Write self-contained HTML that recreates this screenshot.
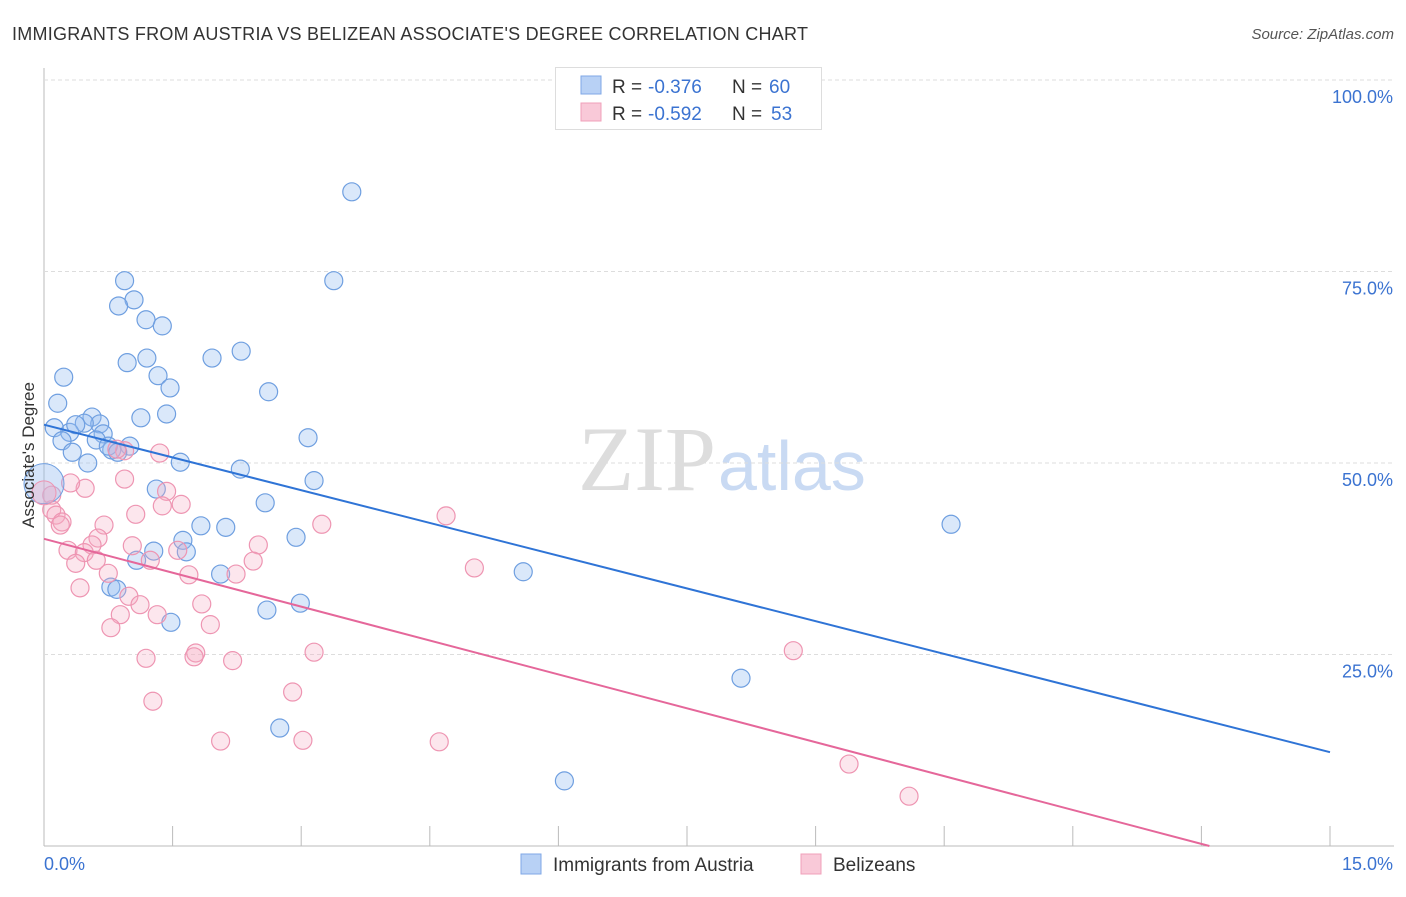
<!DOCTYPE html>
<html><head><meta charset="utf-8"><style>
body{margin:0;background:#fff;font-family:"Liberation Sans",sans-serif}
</style></head><body>
<svg id="c" width="1406" height="892" xmlns="http://www.w3.org/2000/svg">
<text x="12" y="40" font-size="18" fill="#333" textLength="796">IMMIGRANTS FROM AUSTRIA VS BELIZEAN ASSOCIATE'S DEGREE CORRELATION CHART</text>
<text x="1394" y="39" font-size="15" fill="#555" font-style="italic" text-anchor="end">Source: ZipAtlas.com</text>
<text x="716" y="490" font-size="92" fill="#ddd" text-anchor="end" font-family="Liberation Serif">ZIP</text>
<text x="718" y="490" font-size="70" fill="#c9daf3">atlas</text>
<g id="grid"></g><g id="pts"></g><g id="lines"></g>
<text transform="translate(34,455) rotate(-90)" font-size="17" fill="#333" text-anchor="middle">Associate's Degree</text>
<g>
<rect x="555.5" y="67.5" width="266" height="62" fill="#fff" stroke="#ddd"/>
<rect x="581" y="76" width="20" height="18" fill="#b8d1f5" stroke="#7fa7e6"/>
<rect x="581" y="103" width="20" height="18" fill="#f9c9d8" stroke="#f0a0ba"/>
<text x="612" y="93" font-size="19" fill="#333">R =</text>
<text x="648" y="93" font-size="19" fill="#3b73d1">-0.376</text>
<text x="732" y="93" font-size="19" fill="#333">N =</text>
<text x="769" y="93" font-size="19" fill="#3b73d1">60</text>
<text x="612" y="120" font-size="19" fill="#333">R =</text>
<text x="648" y="120" font-size="19" fill="#3b73d1">-0.592</text>
<text x="732" y="120" font-size="19" fill="#333">N =</text>
<text x="771" y="120" font-size="19" fill="#3b73d1">53</text>
</g>
<g>
<rect x="521" y="854" width="20" height="20" fill="#b8d1f5" stroke="#7fa7e6"/>
<text x="553" y="871" font-size="19" fill="#333">Immigrants from Austria</text>
<rect x="801" y="854" width="20" height="20" fill="#f9c9d8" stroke="#f0a0ba"/>
<text x="833" y="871" font-size="19" fill="#333">Belizeans</text>
</g>
</svg>
<script>
const xTicks=[0,1.5,3,4.5,6,7.5,9,10.5,12,13.5,15];
const yTicks=[25,50,75,100];
const yTickLabels=["25.0%","50.0%","75.0%","100.0%"];
const xEndLabels=["0.0%","15.0%"];
const blueX=[3.59,3.38,0.94,1.05,0.87,1.19,1.38,2.30,1.96,1.20,0.97,1.33,0.23,1.47,2.62,0.16,1.43,1.13,0.56,0.65,0.47,0.12,0.30,0.21,0.69,0.61,3.08,1.00,0.79,0.75,0.33,0.51,1.59,2.29,3.15,1.31,2.58,10.58,1.83,2.12,2.94,1.62,1.28,1.66,1.08,5.59,2.06,0.78,0.85,2.99,2.60,1.48,8.13,2.75,6.07,0.37,0.86];
const blueY=[85.4,73.8,73.8,71.3,70.5,68.7,67.9,64.6,63.7,63.7,63.1,61.4,61.2,59.8,59.3,57.8,56.4,55.9,56.0,55.1,55.2,54.6,54.0,52.9,53.8,53.0,53.3,52.2,51.7,52.2,51.4,50.0,50.1,49.2,47.7,46.6,44.8,42.0,41.8,41.6,40.3,39.9,38.5,38.4,37.3,35.8,35.5,33.8,33.5,31.7,30.8,29.2,21.9,15.4,8.5,55.0,51.4];
const pinkX=[1.35,0.94,0.85,0.09,0.48,0.94,0.31,1.43,1.60,1.38,4.69,0.09,0.14,0.21,0.19,0.70,3.24,1.07,0.63,0.28,0.56,1.03,2.50,1.56,1.24,0.47,0.61,2.44,0.37,1.69,2.24,0.75,5.02,0.42,0.99,1.12,1.84,1.32,0.89,1.94,0.78,8.74,3.15,1.77,1.75,1.19,2.20,2.90,1.27,2.06,3.02,4.61,9.39,10.09];
const pinkY=[51.3,51.6,51.8,45.8,46.7,47.9,47.4,46.3,44.6,44.4,43.1,43.9,43.2,42.3,41.9,41.9,42.0,43.3,40.2,38.6,39.3,39.2,39.3,38.6,37.3,38.3,37.3,37.2,36.9,35.4,35.5,35.6,36.3,33.7,32.6,31.5,31.6,30.2,30.2,28.9,28.5,25.5,25.3,25.2,24.7,24.5,24.2,20.1,18.9,13.7,13.8,13.6,10.7,6.5];
const bigX=[0,0];const bigY=[47.3,46.1];
const trendIntercept=[55.0,40.1];
const trendSlope=[-2.85,-2.95];
const X=v=>44+v/15*1286, Y=v=>846-v/100*766;
const NS="http://www.w3.org/2000/svg";
function mk(t,a,p){const e=document.createElementNS(NS,t);for(const k in a)e.setAttribute(k,a[k]);p.appendChild(e);return e;}
const g=document.getElementById('grid');
const ax=mk('line',{x1:44,y1:68,x2:44,y2:846,stroke:'#bbb'},g);


const bx=mk('line',{x1:44,y1:846,x2:1394,y2:846,stroke:'#bbb'},g);


yTicks.forEach((v,i)=>{
 const l=mk('line',{x1:44,y1:Y(v),x2:1394,y2:Y(v),stroke:'#ddd','stroke-dasharray':'4,3'},g);
 
 
 const t=mk('text',{x:1393,y:Y(v)+23,'font-size':18,fill:'#3b73d1','text-anchor':'end'},g);
 t.textContent=yTickLabels[i];
 
 
});
xTicks.forEach((v,i)=>{
 if(i==0)return;
 const l=mk('line',{x1:X(v),y1:826,x2:X(v),y2:846,stroke:'#bbb'},g);
 
 
});
const t0=mk('text',{x:44,y:870,'font-size':18,fill:'#3b73d1'},g);t0.textContent=xEndLabels[0];


const t1=mk('text',{x:1393,y:870,'font-size':18,fill:'#3b73d1','text-anchor':'end'},g);t1.textContent=xEndLabels[1];


const p=document.getElementById('pts');
function dots(xs,ys,fill,stroke,name,r){xs.forEach((v,i)=>{const c=mk('circle',{cx:X(v),cy:Y(ys[i]),r:r,fill:fill,stroke:stroke,'stroke-width':1.2},p);
 
 });}
dots(blueX,blueY,'rgba(150,188,240,0.35)','#6f9fe0','austria-point',9);
dots(pinkX,pinkY,'rgba(246,172,196,0.3)','#ee95b2','belizean-point',9);
const bc=mk('circle',{cx:X(bigX[0]),cy:Y(bigY[0]),r:20,fill:'rgba(150,188,240,0.4)',stroke:'#6f9fe0'},p);


const pc=mk('circle',{cx:X(bigX[1]),cy:Y(bigY[1]),r:12,fill:'rgba(246,172,196,0.35)',stroke:'#ee95b2'},p);


const L=document.getElementById('lines');
const cols=['#2f74d6','#e5679a'];const names=['austria-trend-line','belizean-trend-line'];
trendIntercept.forEach((b,i)=>{const m=trendSlope[i];let x2=15,y2=b+m*15;if(y2<0){x2=-b/m;y2=0;}
 const l=mk('line',{x1:X(0),y1:Y(b),x2:X(x2),y2:Y(y2),stroke:cols[i],'stroke-width':2},L);
 
 });
</script>
</body></html>
